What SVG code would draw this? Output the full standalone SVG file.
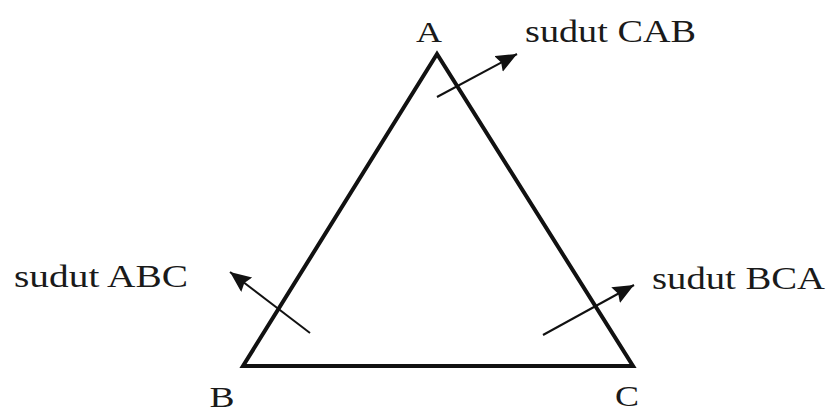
<svg xmlns="http://www.w3.org/2000/svg" width="831" height="415" viewBox="0 0 831 415">
<style>
text{font-family:"Liberation Serif","Times New Roman",serif;fill:#1a1a1a;font-size:32px}
.lbl{font-size:30px}
.tri{fill:none;stroke:#111;stroke-width:4;stroke-linejoin:miter}
.arr{stroke:#111;stroke-width:2;fill:none}
</style>
<defs>
<marker id="ah" markerUnits="userSpaceOnUse" markerWidth="24" markerHeight="20" refX="21" refY="9" orient="auto">
<path d="M0,0 L21,9 L0,18 L3,9 Z" fill="#111"/>
</marker>
</defs>
<rect width="831" height="415" fill="#fff"/>
<g id="triangle">
<polygon class="tri" points="437,54 243,366 633,366"/>
</g>
<g id="label-A"><text class="lbl" x="429" y="42" text-anchor="middle" textLength="26" lengthAdjust="spacingAndGlyphs">A</text></g>
<g id="label-B"><text class="lbl" x="222" y="407" text-anchor="middle" textLength="25" lengthAdjust="spacingAndGlyphs">B</text></g>
<g id="label-C"><text class="lbl" x="627" y="406" text-anchor="middle" textLength="24" lengthAdjust="spacingAndGlyphs">C</text></g>
<g id="sudut-CAB"><text x="525" y="42" textLength="171" lengthAdjust="spacingAndGlyphs">sudut CAB</text></g>
<g id="sudut-ABC"><text x="14" y="287" textLength="174" lengthAdjust="spacingAndGlyphs">sudut ABC</text></g>
<g id="sudut-BCA"><text x="652" y="289" textLength="173" lengthAdjust="spacingAndGlyphs">sudut BCA</text></g>
<g id="connectors">
<line class="arr" x1="437" y1="97" x2="517" y2="54" marker-end="url(#ah)"/>
<line class="arr" x1="310" y1="333" x2="230" y2="272" marker-end="url(#ah)"/>
<line class="arr" x1="543" y1="335" x2="634" y2="285" marker-end="url(#ah)"/>
</g>
</svg>
